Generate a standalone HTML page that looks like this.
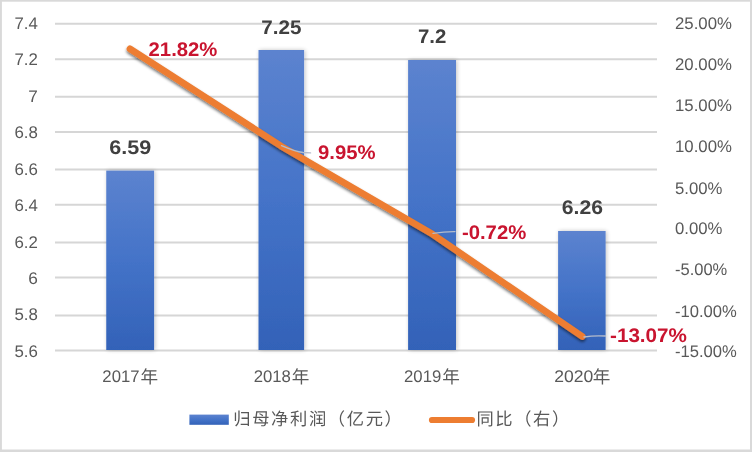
<!DOCTYPE html>
<html lang="zh"><head><meta charset="utf-8"><title>归母净利润与同比</title>
<style>html,body{margin:0;padding:0;background:#fff}body{width:752px;height:452px;overflow:hidden}svg{display:block}text{font-family:"Liberation Sans","Noto Sans CJK SC",sans-serif;text-rendering:geometricPrecision}.cj{font-family:"Liberation Sans","Noto Sans CJK SC",sans-serif}</style></head><body>
<svg width="752" height="452" viewBox="0 0 752 452">
<defs><linearGradient id="bg" x1="0" y1="0" x2="0" y2="1"><stop offset="0" stop-color="#5c83cf"/><stop offset="0.5" stop-color="#4473c8"/><stop offset="1" stop-color="#3362b8"/></linearGradient><filter id="bs" x="-30%" y="-10%" width="160%" height="120%"><feGaussianBlur in="SourceAlpha" stdDeviation="2.2"/><feOffset dx="0.7" dy="0"/><feComponentTransfer><feFuncA type="linear" slope="0.24"/></feComponentTransfer><feMerge><feMergeNode/><feMergeNode in="SourceGraphic"/></feMerge></filter><filter id="ls" x="-5%" y="-5%" width="110%" height="115%"><feGaussianBlur in="SourceAlpha" stdDeviation="1.6"/><feOffset dx="-0.5" dy="2"/><feComponentTransfer><feFuncA type="linear" slope="0.55"/></feComponentTransfer><feMerge><feMergeNode/><feMergeNode in="SourceGraphic"/></feMerge></filter></defs>
<rect x="0" y="0" width="752" height="452" fill="#fff"/>
<g fill="#d9d9d9"><rect x="0" y="0" width="752" height="1.7"/><rect x="0" y="449.5" width="752" height="2.5"/><rect x="0" y="0" width="1.9" height="452"/><rect x="750" y="0" width="2" height="452"/></g>
<g stroke="#d6d6d6" stroke-width="2">
<line x1="55.0" y1="23.75" x2="657.0" y2="23.75"/>
<line x1="55.0" y1="59.25" x2="657.0" y2="59.25"/>
<line x1="55.0" y1="96.75" x2="657.0" y2="96.75"/>
<line x1="55.0" y1="132.0" x2="657.0" y2="132.0"/>
<line x1="55.0" y1="169.5" x2="657.0" y2="169.5"/>
<line x1="55.0" y1="204.75" x2="657.0" y2="204.75"/>
<line x1="55.0" y1="242.5" x2="657.0" y2="242.5"/>
<line x1="55.0" y1="277.5" x2="657.0" y2="277.5"/>
<line x1="55.0" y1="315.4" x2="657.0" y2="315.4"/>
<line x1="55.0" y1="350.6" x2="657.0" y2="350.6"/>
</g>
<g filter="url(#bs)">
<rect x="106.25" y="170.6" width="47.85" height="179.40" fill="url(#bg)"/>
<rect x="258.5" y="50.0" width="45.60" height="300.00" fill="url(#bg)"/>
<rect x="408.1" y="60.0" width="47.90" height="290.00" fill="url(#bg)"/>
<rect x="558.1" y="231.0" width="47.50" height="119.00" fill="url(#bg)"/>
</g>
<g fill="#595959" font-size="16.9" text-anchor="end">
<text x="37.8" y="28.75" textLength="23.4" lengthAdjust="spacingAndGlyphs">7.4</text>
<text x="37.8" y="65.21" textLength="23.4" lengthAdjust="spacingAndGlyphs">7.2</text>
<text x="37.8" y="101.67" textLength="9.6" lengthAdjust="spacingAndGlyphs">7</text>
<text x="37.8" y="138.13" textLength="23.4" lengthAdjust="spacingAndGlyphs">6.8</text>
<text x="37.8" y="174.59" textLength="23.4" lengthAdjust="spacingAndGlyphs">6.6</text>
<text x="37.8" y="211.05" textLength="23.4" lengthAdjust="spacingAndGlyphs">6.4</text>
<text x="37.8" y="247.51" textLength="23.4" lengthAdjust="spacingAndGlyphs">6.2</text>
<text x="37.8" y="283.97" textLength="9.6" lengthAdjust="spacingAndGlyphs">6</text>
<text x="37.8" y="320.43" textLength="23.4" lengthAdjust="spacingAndGlyphs">5.8</text>
<text x="37.8" y="356.89" textLength="23.4" lengthAdjust="spacingAndGlyphs">5.6</text>
</g>
<g fill="#595959" font-size="16.9">
<text x="675.0" y="28.75" textLength="56.9" lengthAdjust="spacingAndGlyphs">25.00%</text>
<text x="675.0" y="69.75" textLength="56.9" lengthAdjust="spacingAndGlyphs">20.00%</text>
<text x="675.0" y="111.25" textLength="56.9" lengthAdjust="spacingAndGlyphs">15.00%</text>
<text x="675.0" y="151.60" textLength="56.9" lengthAdjust="spacingAndGlyphs">10.00%</text>
<text x="675.0" y="193.75" textLength="47.4" lengthAdjust="spacingAndGlyphs">5.00%</text>
<text x="675.0" y="234.00" textLength="47.4" lengthAdjust="spacingAndGlyphs">0.00%</text>
<text x="675.0" y="275.00" textLength="52.3" lengthAdjust="spacingAndGlyphs">-5.00%</text>
<text x="675.0" y="316.50" textLength="61.8" lengthAdjust="spacingAndGlyphs">-10.00%</text>
<text x="675.0" y="356.60" textLength="61.8" lengthAdjust="spacingAndGlyphs">-15.00%</text>
</g>
<g fill="#595959" font-size="16.9">
<text><tspan x="102.35" y="381.5" textLength="37.2" lengthAdjust="spacingAndGlyphs">2017</tspan><tspan class="cj" font-size="17.6" x="140.55" y="383.4">年</tspan></text>
<text><tspan x="253.65" y="381.5" textLength="37.2" lengthAdjust="spacingAndGlyphs">2018</tspan><tspan class="cj" font-size="17.6" x="291.85" y="383.4">年</tspan></text>
<text><tspan x="404.05" y="381.5" textLength="37.2" lengthAdjust="spacingAndGlyphs">2019</tspan><tspan class="cj" font-size="17.6" x="442.15" y="383.4">年</tspan></text>
<text><tspan x="554.25" y="381.5" textLength="39.0" lengthAdjust="spacingAndGlyphs">2020</tspan><tspan class="cj" font-size="17.6" x="592.65" y="383.4">年</tspan></text>
</g>
<path d="M130.00 48.83 L281.00 146.03 L432.50 234.21 L582.30 336.43" fill="none" stroke="#ed7d31" stroke-width="6.7" stroke-linecap="round" stroke-linejoin="round" filter="url(#ls)"/>
<g fill="none" stroke="#b4bccb" stroke-width="1.3" stroke-linecap="round">
<path d="M281.5 145.6 C288 148.4 296 151.7 303 152.5 L310.6 152.9"/>
<path d="M433 233.3 C440 232.2 447 231.5 455 231.6"/>
<path d="M584 337 C591 335.8 598 335.6 605.5 336"/>
</g>
<g fill="#404040" font-size="19.7" font-weight="bold">
<text x="109.3" y="153.6" textLength="42.0" lengthAdjust="spacingAndGlyphs">6.59</text>
<text x="261.3" y="33.6" textLength="40.2" lengthAdjust="spacingAndGlyphs">7.25</text>
<text x="417.9" y="42.6" textLength="28.4" lengthAdjust="spacingAndGlyphs">7.2</text>
<text x="561.8" y="213.6" textLength="41.2" lengthAdjust="spacingAndGlyphs">6.26</text>
</g>
<g fill="#c9142f" font-size="19.7" font-weight="bold">
<text x="148.6" y="55.5" textLength="68.8" lengthAdjust="spacingAndGlyphs">21.82%</text>
<text x="318.0" y="159.3" textLength="57.6" lengthAdjust="spacingAndGlyphs">9.95%</text>
<text x="461.9" y="238.9" textLength="64.4" lengthAdjust="spacingAndGlyphs">-0.72%</text>
<text x="610.0" y="342.4" textLength="77.0" lengthAdjust="spacingAndGlyphs">-13.07%</text>
</g>
<rect x="189.4" y="414.6" width="39.4" height="10.2" fill="url(#bg)"/>
<line x1="432" y1="420" x2="472" y2="420" stroke="#ed7d31" stroke-width="6.2" stroke-linecap="round"/>
<g fill="#595959" font-size="17.3" letter-spacing="1.63">
<text class="cj" x="233.3" y="425.4">归母净利润（亿元）</text>
<text class="cj" x="476.4" y="425.4">同比（右）</text>
</g>
</svg></body></html>
